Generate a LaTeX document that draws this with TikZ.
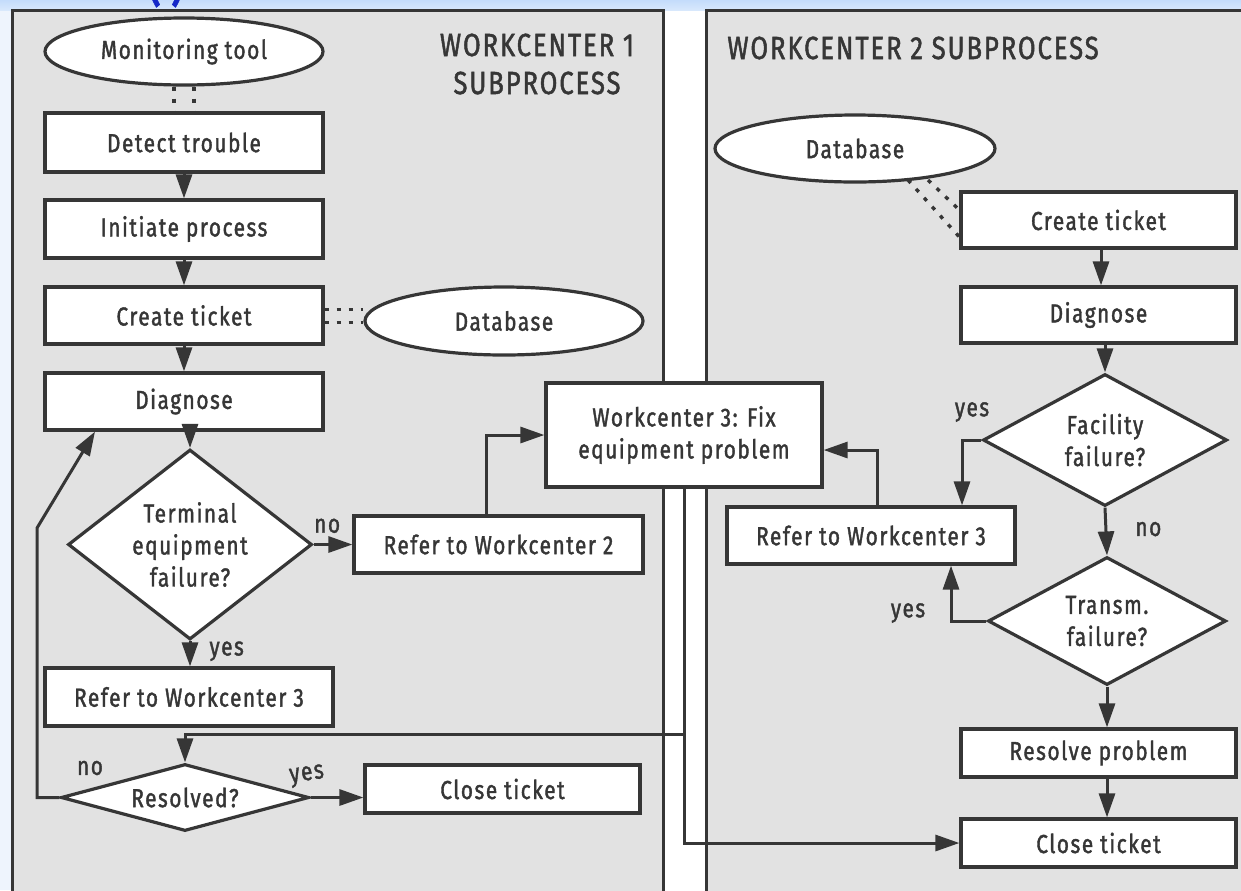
\documentclass[tikz,border=0pt]{standalone}
\usepackage{fontspec}
\setmainfont{Fira Sans}[FakeStretch=0.8, LetterSpace=6, FakeBold=1.5]
\usetikzlibrary{arrows.meta,shapes.geometric,calc}

\definecolor{panel}{HTML}{E2E2E2}
\definecolor{ink}{HTML}{363636}
\definecolor{topblue}{HTML}{C4DCFB}
\definecolor{topblue2}{HTML}{D8E8FC}
\definecolor{paleblue}{HTML}{EEF4FD}
\definecolor{titleblue}{HTML}{1428C8}

\newcommand\bodyfont{\fontsize{13}{16}\selectfont}
\newcommand\headfont{\fontsize{16}{17}\selectfont}

\tikzset{
  box/.style={draw=ink, line width=1.6pt, fill=white, inner sep=0pt,
              font=\bodyfont, text=ink, align=center},
  dec/.style={diamond, draw=ink, line width=1.6pt, fill=white, inner sep=0pt,
              font=\bodyfont, text=ink, align=center},
  store/.style={ellipse, draw=ink, line width=1.6pt, fill=white, inner sep=0pt,
                font=\bodyfont, text=ink},
  arr/.style={draw=ink, line width=1.5pt, -{Triangle[length=12pt,width=8pt]}},
  link/.style={draw=ink, line width=1.5pt},
  dots/.style={draw=ink, line width=1.7pt, dash pattern=on 2pt off 4pt},
  lbl/.style={font=\bodyfont, text=ink, inner sep=0pt},
  head/.style={font=\headfont, text=ink, align=center, inner sep=0pt},
}

\begin{document}
\begin{tikzpicture}[x=0.5pt, y=-0.5pt]
\useasboundingbox (0,0) rectangle (1241,890);
\clip (0,0) rectangle (1241,890);

% page background and frame
\fill[white] (0,0) rectangle (1241,890);
\fill[paleblue] (0,0) rectangle (12,890);
\shade[top color=topblue, bottom color=topblue2] (0,0) rectangle (1241,10);
\begin{scope}
  \clip (0,0) rectangle (1241,10);
  \node[text=titleblue, font=\fontsize{20}{20}\bfseries, anchor=base, inner sep=0pt]
    (tag) at (166,1) {(\hspace{6pt})};
\end{scope}

% swimlanes
\draw[ink, line width=1.5pt, fill=panel] (12,10) rectangle (663,900);
\draw[ink, line width=1.5pt, fill=panel] (706,10) rectangle (1260,900);

\node[head] (h1) at (537,64) {WORKCENTER 1\\[2pt]SUBPROCESS};
\node[head, anchor=west] (h2) at (727,48) {WORKCENTER 2 SUBPROCESS};

% ---- workcenter 1 ----
\node[store, minimum width=139pt, minimum height=33.5pt] (mon) at (184,51.5) {Monitoring tool};
\node[box, minimum width=139pt, minimum height=29.5pt] (detect) at (184,142.5) {Detect trouble};
\node[box, minimum width=139pt, minimum height=29pt] (init) at (184,229) {Initiate process};
\node[box, minimum width=139pt, minimum height=28.5pt] (ctL) at (184,315.5) {Create ticket};
\node[box, minimum width=139pt, minimum height=28.5pt] (diagL) at (184,401.5) {Diagnose};
\node[store, minimum width=139pt, minimum height=34pt] (dbL) at (504,321) {Database};
\node[dec, minimum width=122pt, minimum height=95pt, aspect=1.28] (term) at (190,544.5)
  {Terminal\\equipment\\failure?};
\node[box, minimum width=144.5pt, minimum height=28.5pt] (r2) at (498.5,544.5) {Refer to Workcenter 2};
\node[box, minimum width=144pt, minimum height=29pt] (r3L) at (189,697) {Refer to Workcenter 3};
\node[dec, minimum width=124pt, minimum height=33.5pt, aspect=3.6] (res) at (185,797.5) {Resolved?};
\node[box, minimum width=137.5pt, minimum height=24pt] (closeL) at (502.5,789) {Close ticket};

% ---- shared fix step ----
\node[box, minimum width=138pt, minimum height=52pt] (wc3) at (684,435)
  {Workcenter 3: Fix\\equipment problem};

% ---- workcenter 2 ----
\node[store, minimum width=140pt, minimum height=33.5pt] (dbR) at (855,148.5) {Database};
\node[box, minimum width=137.5pt, minimum height=28pt] (ctR) at (1098.5,220) {Create ticket};
\node[box, minimum width=137.5pt, minimum height=28pt] (diagR) at (1098.5,315) {Diagnose};
\node[dec, minimum width=122pt, minimum height=66pt, aspect=1.85] (fac) at (1105,440) {Facility\\failure?};
\node[box, minimum width=144pt, minimum height=28.5pt] (r3R) at (871,535.5) {Refer to Workcenter 3};
\node[dec, minimum width=119pt, minimum height=64pt, aspect=1.85] (tr) at (1107,621) {Transm.\\failure?};
\node[box, minimum width=137.5pt, minimum height=24pt] (resolve) at (1098.5,753) {Resolve problem};
\node[box, minimum width=137.5pt, minimum height=24pt] (closeR) at (1098.5,843) {Close ticket};

% data links
\draw[dots] ([xshift=-5pt]mon.south) -- ([xshift=-5pt]detect.north);
\draw[dots] ([xshift=5pt]mon.south) -- ([xshift=5pt]detect.north);
\draw[dots] ([yshift=3pt]ctL.east) -- ([yshift=3pt]ctL.east -| dbL.west);
\draw[dots] ([yshift=-3.5pt]ctL.east) -- ([yshift=-3.5pt]ctL.east -| dbL.west);
\coordinate (dA) at (908,180);
\coordinate (dB) at (928,180);
\draw[dots] (dA) -- (ctR.south west |- 0,237);
\draw[dots] (dB) -- (ctR.south west |- 0,210);

% workcenter 1 flow
\draw[arr] (detect) -- (init);
\draw[arr] (init) -- (ctL);
\draw[arr] (ctL) -- (diagL);
\draw[arr] (diagL.south -| term.north) -- (term.north);
\draw[arr] (term.east) -- (r2.west) node[lbl, pos=0.35, above=5pt] {no};
\draw[arr] (term.south) -- (term.south |- r3L.north) node[lbl, pos=0.4, right=9pt] {yes};
\draw[arr] (r2.north -| 486,0) |- (wc3.west);
\coordinate (back) at (37,528);
\draw[arr] (res.west) -| (back) -- (diagL.south -| 95,0);
\node[lbl] (noRes) at (90,768) {no};
\draw[arr] (res.east) -- (res.east -| closeL.west);
\node[lbl, rotate=8] (yesRes) at (307,776) {yes};

% return paths from workcenter 3
\coordinate (split) at (684,734);
\draw[link] (wc3.south) -- (split);
\draw[arr] (split) -- (split -| res.north) -- (res.north);
\draw[arr] (split) |- (closeR.west);

% workcenter 2 flow
\draw[arr] (ctR.south -| 1101,0) -- (diagR.north -| 1101,0);
\draw[arr] (diagR.south -| fac.north) -- (fac.north);
\draw[arr] (fac.west) -| (r3R.north -| 962,0);
\node[lbl] (yesFac) at (972,412) {yes};
\draw[arr] (fac.south) -- (tr.north) node[lbl, pos=0.45, right=14pt] {no};
\draw[arr] (tr.west) -| (r3R.south -| 951,0);
\node[lbl] (yesTr) at (908,613) {yes};
\draw[arr] (r3R.north -| 877,0) |- ([yshift=-7.5pt]wc3.east);
\draw[arr] (tr.south) -- (tr.south |- resolve.north);
\draw[arr] (resolve.south -| tr.south) -- (closeR.north -| tr.south);
\end{tikzpicture}
\end{document}
